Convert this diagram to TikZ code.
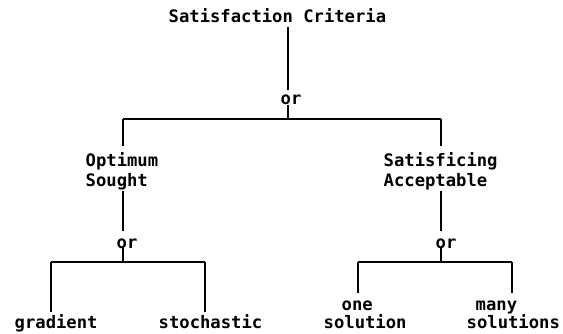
\documentclass[tikz,border=0pt]{standalone}
\usepackage{fontspec}
\newfontfamily\lblfont{DejaVu Sans Mono}
\begin{document}
\begin{tikzpicture}[x=1pt,y=-1pt,
  lbl/.style={font=\lblfont\bfseries\fontsize{17.2}{20}\selectfont, inner sep=0pt, anchor=base west},
  conn/.style={line width=1.4pt, line cap=butt}]
\useasboundingbox (0,0) rectangle (563,334);
% texts
\node[lbl] (title) at (168.5,23) {Satisfaction Criteria};
\node[lbl] (or0) at (280.5,105) {or};
\node[lbl] (opt1) at (85.5,167) {Optimum};
\node[lbl] (opt2) at (85.5,187) {Sought};
\node[lbl] (sat1) at (383.5,167) {Satisficing};
\node[lbl] (sat2) at (383.5,187) {Acceptable};
\node[lbl] (or1) at (116.5,248) {or};
\node[lbl] (or2) at (435.5,248) {or};
\node[lbl] (grad) at (14.5,328) {gradient};
\node[lbl] (stoch) at (158.5,328) {stochastic};
\node[lbl] (one1) at (341.5,310) {one};
\node[lbl] (one2) at (323.5,328) {solution};
\node[lbl] (many1) at (475.5,310) {many};
\node[lbl] (many2) at (466.5,328) {solutions};
% junctions
\coordinate (a) at (288,119);
\coordinate (b) at (123,119);
\coordinate (c) at (441,119);
\coordinate (d) at (123,262);
\coordinate (e) at (51,262);
\coordinate (f) at (205,262);
\coordinate (g) at (441,262);
\coordinate (h) at (358,262);
\coordinate (i) at (512,262);
% connectors
\draw[conn, shorten <=4pt, shorten >=5pt] (a |- title.south) -- (a |- or0.north);
\draw[conn] (a |- or0.south) -- (a);
\draw[conn] (b) -- (c);
\draw[conn, shorten >=7pt] (b) -- (b |- opt1.north);
\draw[conn, shorten >=7pt] (b |- opt2.south) -- (b |- or1.north);
\draw[conn] (d |- or1.south) -- (d);
\draw[conn] (e) -- (f);
\draw[conn, shorten >=2pt] (e) -- (e |- grad.north);
\draw[conn, shorten >=2pt] (f) -- (f |- stoch.north);
\draw[conn, shorten >=7pt] (c) -- (c |- sat1.north);
\draw[conn, shorten >=7pt] (c |- sat2.south) -- (c |- or2.north);
\draw[conn] (g |- or2.south) -- (g);
\draw[conn] (h) -- (i);
\draw[conn, shorten >=7pt] (h) -- (h |- one1.north);
\draw[conn, shorten >=7pt] (i) -- (i |- many1.north);
\end{tikzpicture}
\end{document}
